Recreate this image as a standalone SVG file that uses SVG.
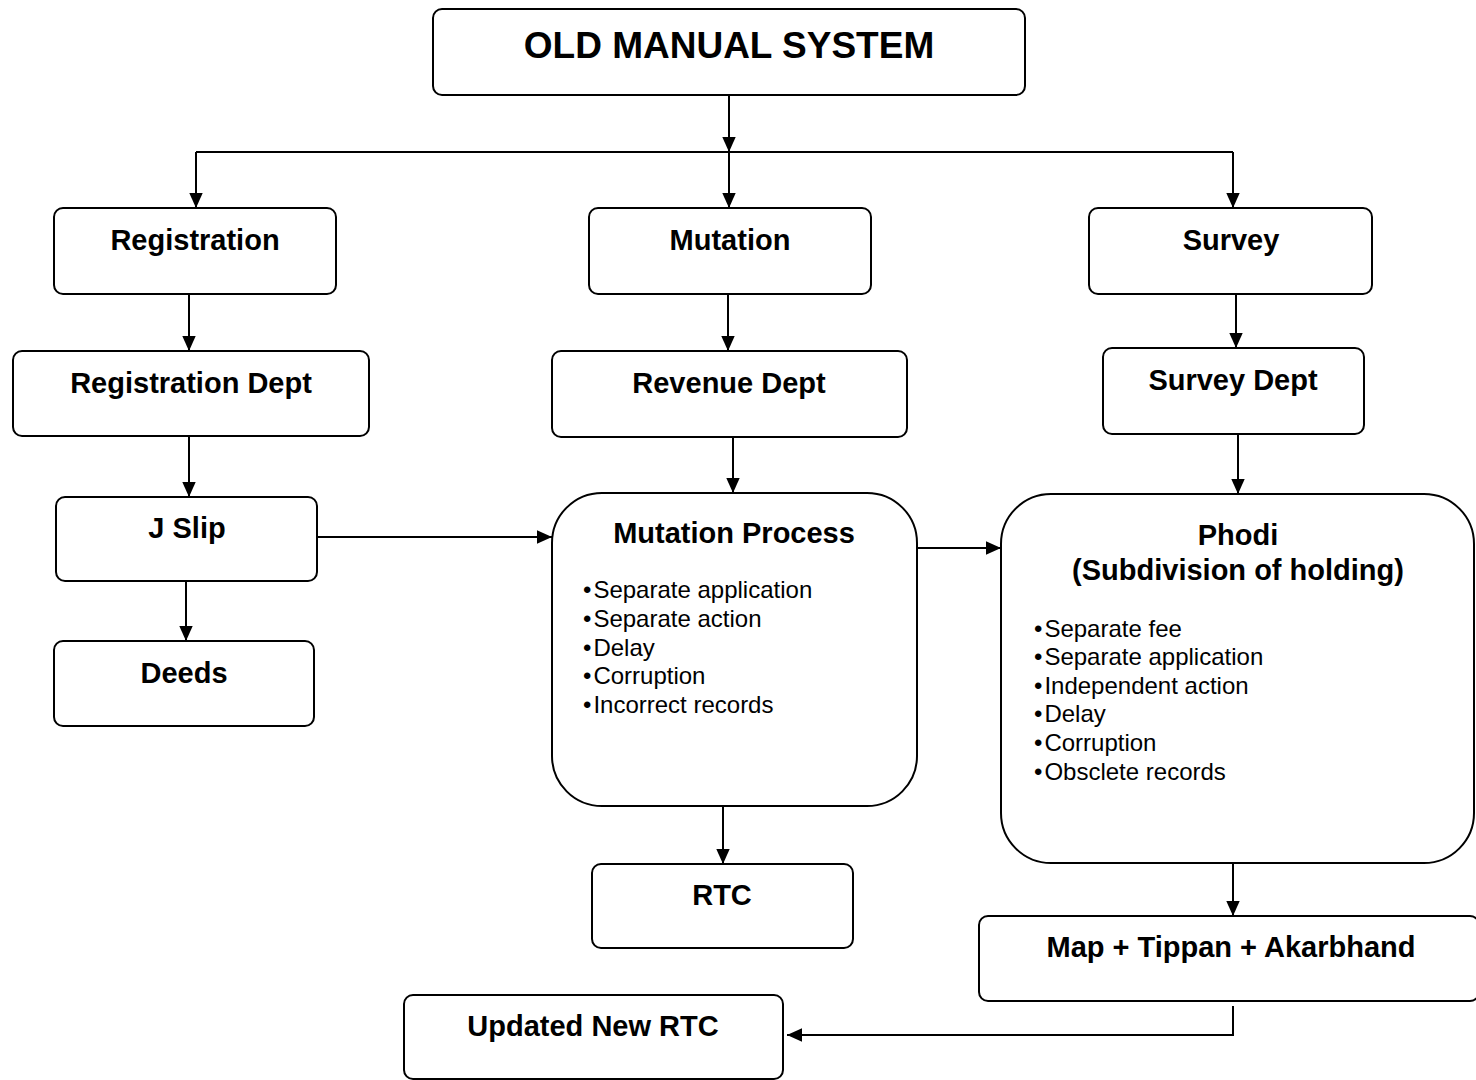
<svg xmlns="http://www.w3.org/2000/svg" width="1476" height="1080" viewBox="0 0 1476 1080">
<defs>
<marker id="ah" markerUnits="userSpaceOnUse" markerWidth="15" markerHeight="15" viewBox="0 0 15 15" refX="15" refY="7.5" orient="auto">
<path d="M0,0.8 L15,7.5 L0,14.2 Z" fill="#000"/>
</marker>
<style>
.box{fill:#fff;stroke:#000;stroke-width:2}
.t{font-family:"Liberation Sans",Arial,sans-serif;font-weight:bold;font-size:29px;text-anchor:middle;fill:#000}
.b{font-family:"Liberation Sans",Arial,sans-serif;font-size:24px;fill:#000}
.c{fill:none;stroke:#000;stroke-width:2}
</style>
</defs>
<rect width="1476" height="1080" fill="#fff"/>
<g id="connectors">
<line class="c" x1="729" y1="95" x2="729" y2="152" marker-end="url(#ah)"/>
<line class="c" x1="196" y1="152" x2="1233" y2="152"/>
<line class="c" x1="196" y1="152" x2="196" y2="208" marker-end="url(#ah)"/>
<line class="c" x1="729" y1="152" x2="729" y2="208" marker-end="url(#ah)"/>
<line class="c" x1="1233" y1="152" x2="1233" y2="208" marker-end="url(#ah)"/>
<line class="c" x1="189" y1="294" x2="189" y2="351" marker-end="url(#ah)"/>
<line class="c" x1="189" y1="436" x2="189" y2="497" marker-end="url(#ah)"/>
<line class="c" x1="186" y1="581" x2="186" y2="641" marker-end="url(#ah)"/>
<line class="c" x1="728" y1="294" x2="728" y2="351" marker-end="url(#ah)"/>
<line class="c" x1="733" y1="437" x2="733" y2="493" marker-end="url(#ah)"/>
<line class="c" x1="316" y1="537" x2="552" y2="537" marker-end="url(#ah)"/>
<line class="c" x1="915" y1="548" x2="1001" y2="548" marker-end="url(#ah)"/>
<line class="c" x1="1236" y1="291" x2="1236" y2="348" marker-end="url(#ah)"/>
<line class="c" x1="1238" y1="434" x2="1238" y2="494" marker-end="url(#ah)"/>
<line class="c" x1="723" y1="806" x2="723" y2="864" marker-end="url(#ah)"/>
<line class="c" x1="1233" y1="858" x2="1233" y2="916" marker-end="url(#ah)"/>
<polyline class="c" points="1233,1006 1233,1035 787,1035" marker-end="url(#ah)"/>
</g>
<g id="old-manual-system"><rect class="box" x="433" y="9" width="592" height="86" rx="9"/><text class="t" x="729" y="58" style="font-size:37px">OLD MANUAL SYSTEM</text></g>
<g id="registration"><rect class="box" x="54" y="208" width="282" height="86" rx="9"/><text class="t" x="195" y="250">Registration</text></g>
<g id="mutation"><rect class="box" x="589" y="208" width="282" height="86" rx="9"/><text class="t" x="730" y="250">Mutation</text></g>
<g id="survey"><rect class="box" x="1089" y="208" width="283" height="86" rx="9"/><text class="t" x="1231" y="250">Survey</text></g>
<g id="registration-dept"><rect class="box" x="13" y="351" width="356" height="85" rx="9"/><text class="t" x="191" y="393">Registration Dept</text></g>
<g id="revenue-dept"><rect class="box" x="552" y="351" width="355" height="86" rx="9"/><text class="t" x="729" y="393">Revenue Dept</text></g>
<g id="survey-dept"><rect class="box" x="1103" y="348" width="261" height="86" rx="9"/><text class="t" x="1233" y="390">Survey Dept</text></g>
<g id="j-slip"><rect class="box" x="56" y="497" width="261" height="84" rx="9"/><text class="t" x="187" y="538">J Slip</text></g>
<g id="deeds"><rect class="box" x="54" y="641" width="260" height="85" rx="9"/><text class="t" x="184" y="683">Deeds</text></g>
<g id="mutation-process"><rect class="box" x="552" y="493" width="365" height="313" rx="50"/><text class="t" x="734" y="543">Mutation Process</text>
<text class="b" x="583" y="598">&#8226;<tspan dx="2">Separate application</tspan></text>
<text class="b" x="583" y="627">&#8226;<tspan dx="2">Separate action</tspan></text>
<text class="b" x="583" y="656">&#8226;<tspan dx="2">Delay</tspan></text>
<text class="b" x="583" y="684">&#8226;<tspan dx="2">Corruption</tspan></text>
<text class="b" x="583" y="713">&#8226;<tspan dx="2">Incorrect records</tspan></text></g>
<g id="phodi"><rect class="box" x="1001" y="494" width="473" height="369" rx="50"/><text class="t" x="1238" y="545">Phodi</text><text class="t" x="1238" y="580">(Subdivision of holding)</text>
<text class="b" x="1034" y="637">&#8226;<tspan dx="2">Separate fee</tspan></text>
<text class="b" x="1034" y="665">&#8226;<tspan dx="2">Separate application</tspan></text>
<text class="b" x="1034" y="694">&#8226;<tspan dx="2">Independent action</tspan></text>
<text class="b" x="1034" y="722">&#8226;<tspan dx="2">Delay</tspan></text>
<text class="b" x="1034" y="751">&#8226;<tspan dx="2">Corruption</tspan></text>
<text class="b" x="1034" y="780">&#8226;<tspan dx="2">Obsclete records</tspan></text></g>
<g id="rtc"><rect class="box" x="592" y="864" width="261" height="84" rx="9"/><text class="t" x="722" y="905">RTC</text></g>
<g id="map-tippan-akarbhand"><rect class="box" x="979" y="916" width="500" height="85" rx="9"/><text class="t" x="1231" y="957">Map + Tippan + Akarbhand</text></g>
<g id="updated-new-rtc"><rect class="box" x="404" y="995" width="379" height="84" rx="9"/><text class="t" x="593" y="1036">Updated New RTC</text></g>
</svg>
